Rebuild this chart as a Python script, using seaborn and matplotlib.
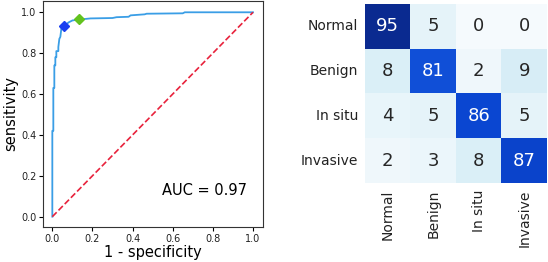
import numpy as np
import pandas as pd
import matplotlib
matplotlib.use("Agg")
import matplotlib.pyplot as plt
import seaborn as sns
from matplotlib.colors import LinearSegmentedColormap

# ROC curve
fpr = [0.0, 0.0, 0.005, 0.005, 0.01, 0.01, 0.015, 0.015, 0.02, 0.02, 0.03, 0.03,
       0.035, 0.04, 0.045, 0.05, 0.06, 0.07, 0.08, 0.09, 0.10, 0.12, 0.15, 0.19,
       0.30, 0.32, 0.38, 0.39, 0.46, 0.47, 0.65, 0.66, 1.0]
tpr = [0.0, 0.42, 0.42, 0.63, 0.63, 0.74, 0.74, 0.78, 0.78, 0.81, 0.81, 0.83,
       0.87, 0.88, 0.92, 0.925, 0.93, 0.94, 0.95, 0.955, 0.96, 0.963, 0.966, 0.97,
       0.972, 0.976, 0.978, 0.985, 0.99, 0.993, 0.995, 1.0, 1.0]
op_points_x = [0.058, 0.134]
op_points_y = [0.932, 0.969]
op_colors = ["#1a3ff0", "#62c21e"]
auc = 0.97

# confusion matrix (%)
classes = ["Normal", "Benign", "In situ", "Invasive"]
cm = [[95, 5, 0, 0],
      [8, 81, 2, 9],
      [4, 5, 86, 5],
      [2, 3, 8, 87]]

fig = plt.figure(figsize=(5.48, 2.62), dpi=100)

# --- ROC ---
ax1 = fig.add_axes([0.079, 0.134, 0.401, 0.862])
sns.lineplot(x=fpr, y=tpr, estimator=None, sort=False, color="#3a9ee6",
             linewidth=1.3, ax=ax1)
ax1.plot([0, 1], [0, 1], linestyle="--", color="#e8223c", linewidth=1.2)
for x, y, c in zip(op_points_x, op_points_y, op_colors):
    ax1.plot(x, y, marker="D", color=c, markersize=5.2)
ax1.set_xlim(-0.045, 1.05)
ax1.set_ylim(-0.05, 1.055)
ax1.set_xticks(np.arange(0, 1.01, 0.2))
ax1.set_yticks(np.arange(0, 1.01, 0.2))
ax1.tick_params(labelsize=7, length=3, width=0.8, pad=2, labelcolor="#222222")
ax1.set_xlabel("1 - specificity", fontsize=10.5, labelpad=1)
ax1.set_ylabel("sensitivity", fontsize=10.5, labelpad=2)
ax1.text(0.76, 0.13, f"AUC = {auc:.2f}", fontsize=10.5, ha="center", va="center")
for s in ax1.spines.values():
    s.set_color("#333333")
    s.set_linewidth(0.8)

# --- confusion matrix ---
cmap = LinearSegmentedColormap.from_list(
    "cm_blues",
    [(0.0, "#f5fafd"), (0.09, "#d8eef6"), (0.45, "#6aa6ea"),
     (0.85, "#1150d8"), (0.91, "#0a45d0"), (1.0, "#0a2a90")])
ax2 = fig.add_axes([0.666, 0.302, 0.332, 0.683])
df = pd.DataFrame(cm, index=classes, columns=classes)
sns.heatmap(df, annot=True, fmt="d", cmap=cmap, vmin=0, vmax=95, cbar=False,
            annot_kws={"fontsize": 13}, ax=ax2)
ax2.tick_params(length=0, labelsize=10, pad=5, labelcolor="#222222")
plt.setp(ax2.get_yticklabels(), rotation=0)
plt.setp(ax2.get_xticklabels(), rotation=90)

fig.savefig("out.png", dpi=100)
